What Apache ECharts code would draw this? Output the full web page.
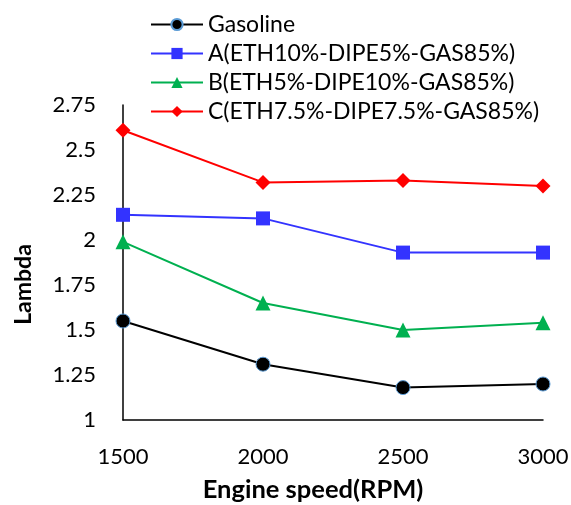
<!DOCTYPE html>
<html><head><meta charset="utf-8">
<script src="https://cdn.jsdelivr.net/npm/echarts@6/dist/echarts.min.js"></script>
<style>html,body{margin:0;padding:0;background:#fff}#c{width:571px;height:505px}</style>
</head><body><div id="c"></div>
<script>
const rpm = [1500, 2000, 2500, 3000];
const gasoline = [1.55, 1.31, 1.18, 1.20];
const seriesA = [2.14, 2.12, 1.93, 1.93];
const seriesB = [1.99, 1.65, 1.50, 1.54];
const seriesC = [2.61, 2.32, 2.33, 2.30];
const names = ['Gasoline', 'A(ETH10%-DIPE5%-GAS85%)', 'B(ETH5%-DIPE10%-GAS85%)', 'C(ETH7.5%-DIPE7.5%-GAS85%)'];
const yTicks = [1, 1.25, 1.5, 1.75, 2, 2.25, 2.5, 2.75];

const FONT = 'Lato';
const chart = echarts.init(document.getElementById('c'), null, {renderer: 'canvas'});
function mk(name, vals, color, symbol, size, border) {
  return {
    name: name, type: 'line',
    data: rpm.map((x, i) => [x, vals[i]]),
    symbol: symbol, symbolSize: size,
    lineStyle: {color: color, width: 2},
    itemStyle: {color: color, borderColor: border || color, borderWidth: border ? 1 : 0},
    z: 3
  };
}
chart.setOption({
  animation: false,
  grid: {left: 123, right: 28, top: 105, bottom: 85, containLabel: false, outerBoundsMode: 'none'},
  legend: {
    orient: 'vertical', left: 145, top: 8,
    itemWidth: 52, itemHeight: 14, itemGap: 6,
    textStyle: {fontFamily: FONT, fontSize: 23, lineHeight: 23, color: '#000', padding: [0,0,0,0]},
    data: names
  },
  xAxis: {
    type: 'value', min: 1500, max: 3000, interval: 500,
    axisLine: {show: true, lineStyle: {color: '#000', width: 1.5}},
    axisTick: {show: false}, splitLine: {show: false},
    axisLabel: {fontFamily: FONT, fontSize: 22, color: '#000', margin: 26, formatter: v => String(v)},
    name: 'Engine speed(RPM)', nameLocation: 'middle', nameGap: 57,
    nameTextStyle: {fontFamily: FONT, fontSize: 25.5, fontWeight: 'bold', color: '#000', padding: [0, 40, 0, 0]}
  },
  yAxis: {
    type: 'value', min: 1, max: 2.75, interval: 0.25,
    axisLine: {show: true, lineStyle: {color: '#000', width: 1.5}},
    axisTick: {show: false}, splitLine: {show: false},
    axisLabel: {fontFamily: FONT, fontSize: 22, color: '#000', margin: 27,
      formatter: v => String(yTicks.find(t => Math.abs(t - v) < 1e-9) ?? v)},
    name: 'Lambda', nameLocation: 'middle', nameGap: 88, nameRotate: 90,
    nameTextStyle: {fontFamily: FONT, fontSize: 23, fontWeight: 'bold', color: '#000', padding: [0, 44, 0, 0]}
  },
  series: [
    mk(names[0], gasoline, '#000000', 'circle', 14, '#5B9BD5'),
    mk(names[1], seriesA, '#3333FF', 'rect', 14),
    mk(names[2], seriesB, '#00B050', 'triangle', 15),
    mk(names[3], seriesC, '#FF0000', 'diamond', 15)
  ]
});
</script></body></html>
